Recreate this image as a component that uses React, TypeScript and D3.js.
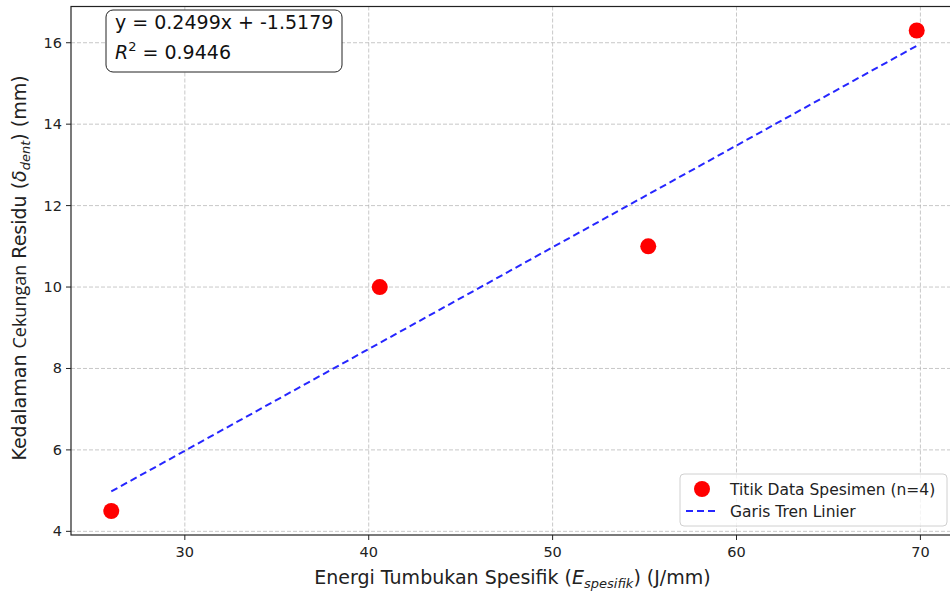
import React from "react";
import * as d3 from "d3";

const energy = [26.0, 40.6, 55.2, 69.8];
const depth = [4.5, 10.0, 11.0, 16.3];
const xTicks = [30, 40, 50, 60, 70];
const yTicks = [4, 6, 8, 10, 12, 14, 16];
const slope = 0.2499;
const intercept = -1.5179;
const r2 = 0.9446;

const W = 950;
const H = 592;
const M = { left: 71, top: 6.5, right: 957, bottom: 535 };
const FONT = "DejaVu Sans, sans-serif";

export default function App() {
  const xMin = d3.min(energy)!, xMax = d3.max(energy)!;
  const yMin = d3.min(depth)!, yMax = d3.max(depth)!;
  const xPad = (xMax - xMin) * 0.05;
  const yPad = (yMax - yMin) * 0.05;
  const x = d3.scaleLinear().domain([xMin - xPad, xMax + xPad]).range([M.left, M.right]);
  const y = d3.scaleLinear().domain([yMin - yPad, yMax + yPad]).range([M.bottom, M.top]);

  const trend = [xMin, xMax].map((v) => [x(v), y(slope * v + intercept)] as [number, number]);
  const line = d3.line();

  return (
    <svg width={W} height={H} style={{ position: "absolute", left: 0, top: 0, background: "#fff" }} fontFamily={FONT}>
      {/* grid */}
      {xTicks.map((t) => (
        <line key={"gx" + t} x1={x(t)} x2={x(t)} y1={M.top} y2={M.bottom} stroke="#b0b0b0" strokeOpacity={0.7} strokeDasharray="4,2" strokeWidth={1} />
      ))}
      {yTicks.map((t) => (
        <line key={"gy" + t} x1={M.left} x2={M.right} y1={y(t)} y2={y(t)} stroke="#b0b0b0" strokeOpacity={0.7} strokeDasharray="4,2" strokeWidth={1} />
      ))}
      {/* trend line */}
      <path d={line(trend)!} stroke="#0000ff" strokeOpacity={0.85} strokeWidth={2} strokeDasharray="7,4" fill="none" />
      {/* points */}
      {energy.map((e, i) => (
        <circle key={i} cx={x(e)} cy={y(depth[i])} r={8} fill="#ff0000" />
      ))}
      {/* spines */}
      <rect x={M.left} y={M.top} width={M.right - M.left} height={M.bottom - M.top} fill="none" stroke="#222" strokeWidth={1.2} />
      {/* ticks */}
      {xTicks.map((t) => (
        <g key={"tx" + t}>
          <line x1={x(t)} x2={x(t)} y1={M.bottom} y2={M.bottom + 5} stroke="#222" />
          <text x={x(t)} y={M.bottom + 22} textAnchor="middle" fontSize={14.5} fill="#222">{t}</text>
        </g>
      ))}
      {yTicks.map((t) => (
        <g key={"ty" + t}>
          <line x1={M.left - 5} x2={M.left} y1={y(t)} y2={y(t)} stroke="#222" />
          <text x={M.left - 9} y={y(t) + 5} textAnchor="end" fontSize={14.5} fill="#222">{t}</text>
        </g>
      ))}
      {/* x label */}
      <text x={(M.left + 950) / 2 + 2} y={584} textAnchor="middle" fontSize={19} fill="#222">
        Energi Tumbukan Spesifik (
        <tspan fontStyle="italic">E</tspan>
        <tspan fontStyle="italic" fontSize={13} dy={4}>spesifik</tspan>
        <tspan dy={-4}>) (J/mm)</tspan>
      </text>
      {/* y label */}
      <text transform={`translate(26, ${268}) rotate(-90)`} textAnchor="middle" fontSize={19} fill="#222">
        Kedalaman <tspan fontFamily="Open Sans, sans-serif" fontSize={18}>Cekungan</tspan> Residu (
        <tspan fontStyle="italic">δ</tspan>
        <tspan fontStyle="italic" fontSize={13} dy={4}>dent</tspan>
        <tspan dy={-4}>) (mm)</tspan>
      </text>
      {/* annotation box */}
      <rect x={106} y={10} width={236} height={62} rx={7} fill="#fff" stroke="#222" strokeWidth={1} />
      <text x={115} y={29} fontSize={19} fill="#111">{`y = ${slope.toFixed(4)}x + ${intercept.toFixed(4)}`}</text>
      <text x={115} y={59} fontSize={19} fill="#111">
        <tspan fontStyle="italic">R</tspan>
        <tspan fontSize={13} dy={-8}>2</tspan>
        <tspan dy={8}>{` = ${r2.toFixed(4)}`}</tspan>
      </text>
      {/* legend */}
      <rect x={680} y={474} width={267} height={52} rx={4} fill="#fff" fillOpacity={0.8} stroke="#d0d0d0" strokeWidth={1} />
      <circle cx={702} cy={489} r={8} fill="#ff0000" />
      <text x={730} y={494.5} fontSize={15.5} fill="#222">Titik Data Spesimen (n=4)</text>
      <line x1={686} x2={718} y1={511} y2={511} stroke="#0000ff" strokeOpacity={0.85} strokeWidth={2} strokeDasharray="7,4" />
      <text x={730} y={517} fontSize={15.5} fill="#222">Garis Tren Linier</text>
    </svg>
  );
}
